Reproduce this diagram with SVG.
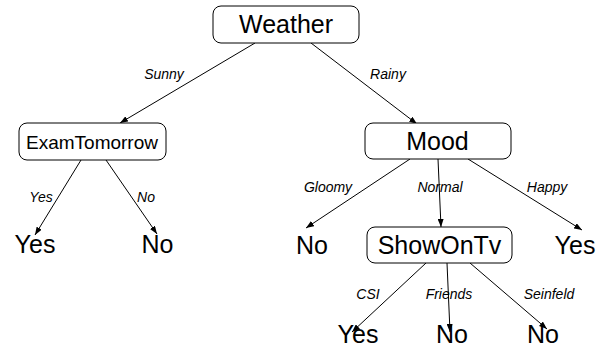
<svg xmlns="http://www.w3.org/2000/svg" width="597" height="349" viewBox="0 0 597 349">
<defs>
<marker id="arr" markerUnits="userSpaceOnUse" markerWidth="8" markerHeight="6" refX="8" refY="3" orient="auto"><path d="M0,0 L8,3 L0,6 Z" fill="#000"/></marker>
<style>
.box{fill:#fff;stroke:#000;stroke-width:1}
.t{font-family:"Liberation Sans",Arial,sans-serif;font-size:25px;text-anchor:middle;fill:#000}
.s{font-size:19px}
.l{font-family:"Liberation Sans",Arial,sans-serif;font-size:14px;font-style:italic;text-anchor:middle;fill:#000}
.c{stroke:#000;stroke-width:1;fill:none;marker-end:url(#arr)}
</style>
</defs>
<rect width="597" height="349" fill="#fff"/>
<g id="connectors">
<line class="c" x1="255" y1="43" x2="120" y2="123"/>
<line class="c" x1="311" y1="43" x2="417" y2="124"/>
<line class="c" x1="81" y1="160" x2="35" y2="235"/>
<line class="c" x1="106" y1="160" x2="157" y2="234"/>
<line class="c" x1="410" y1="159" x2="306" y2="228"/>
<line class="c" x1="438" y1="159" x2="441" y2="227"/>
<line class="c" x1="468" y1="159" x2="582" y2="230"/>
<line class="c" x1="426" y1="263" x2="352" y2="332"/>
<line class="c" x1="447" y1="263" x2="450" y2="332"/>
<line class="c" x1="470" y1="263" x2="547" y2="329"/>
</g>
<g id="labels">
<text class="l" x="164" y="79">Sunny</text>
<text class="l" x="388" y="79">Rainy</text>
<text class="l" x="41" y="202">Yes</text>
<text class="l" x="146" y="202">No</text>
<text class="l" x="328" y="192">Gloomy</text>
<text class="l" x="440" y="192">Normal</text>
<text class="l" x="547" y="192">Happy</text>
<text class="l" x="368" y="299">CSI</text>
<text class="l" x="449" y="299">Friends</text>
<text class="l" x="549" y="299">Seinfeld</text>
</g>
<g id="weather"><rect class="box" x="213" y="6" width="146" height="37" rx="8"/><text class="t" x="286" y="33">Weather</text></g>
<g id="examtomorrow"><rect class="box" x="19" y="123" width="147" height="37" rx="8"/><text class="t s" x="92" y="149">ExamTomorrow</text></g>
<g id="mood"><rect class="box" x="365" y="123" width="146" height="36" rx="8"/><text class="t" x="437.5" y="150">Mood</text></g>
<g id="showontv"><rect class="box" x="367" y="227" width="145" height="36" rx="8"/><text class="t" x="439.5" y="254">ShowOnTv</text></g>
<g id="leaf-yes-1"><text class="t" x="35" y="253">Yes</text></g>
<g id="leaf-no-1"><text class="t" x="157.5" y="253">No</text></g>
<g id="leaf-no-2"><text class="t" x="312" y="254">No</text></g>
<g id="leaf-yes-2"><text class="t" x="575" y="254">Yes</text></g>
<g id="leaf-yes-3"><text class="t" x="358" y="343">Yes</text></g>
<g id="leaf-no-3"><text class="t" x="452" y="343">No</text></g>
<g id="leaf-no-4"><text class="t" x="543" y="343">No</text></g>
</svg>
